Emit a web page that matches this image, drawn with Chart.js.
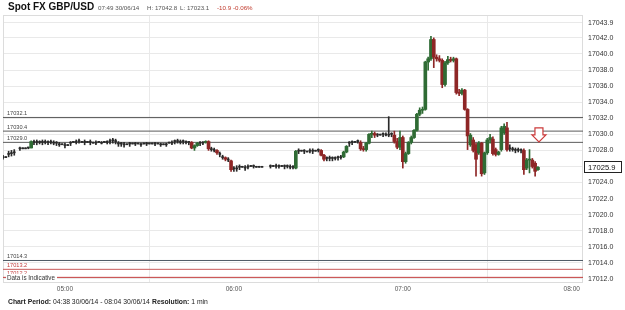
<!DOCTYPE html>
<html lang="en">

<head>
    <meta charset="UTF-8">
    <title>Spot FX GBP/USD</title>
    <script src="https://cdn.jsdelivr.net/npm/chart.js"></script>

    <style>
        body {
            margin: 0;
            background: #fff;
            font-family: "Liberation Sans", Arial, sans-serif;
        }

        .wrap {
            position: relative;
            width: 625px;
            height: 310px;
        }

        .txt {
            position: absolute;
            white-space: nowrap;
            color: #555;
        }

        .big {
            left: 8px;
            top: 1px;
            font-size: 10px;
            line-height: 12px;
            font-weight: bold;
            color: #111;
        }

        .sm {
            top: 4px;
            font-size: 6.2px;
            line-height: 8px;
        }

        .red {
            color: #c0392b;
        }

        .foot {
            top: 298px;
            font-size: 6.8px;
            line-height: 8px;
            color: #222;
        }

        canvas {
            position: absolute;
            left: 0;
            top: 0;
        }
    </style>
</head>

<body>
    <div class="wrap">
        <canvas id="myChart" width="625" height="310"></canvas>
        <div class="txt big">Spot FX GBP/USD</div>
        <div class="txt sm" style="left:98px">07:49 30/06/14</div>
        <div class="txt sm" style="left:147px">H: 17042.8</div>
        <div class="txt sm" style="left:180px">L: 17023.1</div>
        <div class="txt sm red" style="left:217px">-10.9</div>
        <div class="txt sm red" style="left:233px">-0.06%</div>
        <div class="txt foot" style="left:8px"><b>Chart Period:</b> 04:38 30/06/14 - 08:04 30/06/14</div>
        <div class="txt foot" style="left:152px"><b>Resolution:</b> 1 min</div>
    </div>
    <script>
        // 1 min candles, first one at 04:38 (null = no candle that minute)
        const startTime = '04:38';
        const periodEnd = '08:04';

        const opens = [
            17027.1, 17027.1, 17027.5, 17027.6, 17027.7, null, 17028.2, 17028.2, 17028.2, 17028.3,
            17028.3, 17029.0, 17029.0, 17029.0, 17029.0, 17029.0, 17029.0, 17029.0, 17028.9, 17028.9,
            17028.7, 17028.7, 17028.6, 17028.6, 17028.9, 17029.0, 17029.0, 17029.1, 17029.0, 17029.0,
            17029.0, 17029.0, 17028.9, 17028.9, 17029.0, 17028.9, 17029.0, 17029.0, 17029.1, 17029.2,
            17029.1, 17028.8, 17028.8, 17028.7, 17028.7, 17028.8, 17028.8, 17028.8, 17028.8, 17028.7,
            17028.8, 17028.8, 17028.8, 17028.8, 17028.8, 17028.8, 17028.7, 17028.7, 17028.7, 17028.9,
            17028.9, 17029.1, 17029.1, 17029.0, 17029.1, 17029.0, 17029.0, 17029.0, 17028.3, 17028.6,
            17028.9, 17028.9, 17029.0, 17029.1, 17028.1, 17028.0, 17028.0, 17027.5, 17027.1, 17027.1,
            17026.8, 17026.7, 17025.7, 17025.7, 17025.9, 17025.9, 17025.8, 17025.9, 17026.0, 17026.0,
            17025.9, 17025.9, 17025.9, null, null, 17026.0, 17026.0, 17026.0, 17026.0, 17026.0,
            17026.0, 17026.0, 17025.9, 17025.9, 17025.8, 17027.9, 17027.9, 17027.9, 17027.8, 17027.9,
            17027.9, 17027.9, 17028.0, 17028.0, 17027.4, 17027.0, 17027.0, 17027.0, 17027.0, 17027.1,
            17027.1, 17027.2, 17027.8, 17028.9, 17029.0, 17029.0, 17029.1, 17029.0, 17028.2, 17028.1,
            17028.9, 17030.0, 17030.1, 17029.9, 17029.9, 17030.0, 17029.9, 17029.9, 17030.0, 17029.9,
            17029.1, 17028.4, 17029.6, 17026.6, 17027.6, 17029.0, 17029.6, 17030.5, 17032.5, 17033.0,
            17033.1, 17039.0, 17039.4, 17041.8, 17039.6, 17039.4, 17039.2, 17036.2, 17038.9, 17039.3,
            17039.2, 17039.4, 17035.2, 17035.1, 17035.5, 17033.1, 17028.7, 17029.3, 17028.7, 17027.7,
            17028.9, 17025.2, 17027.7, 17029.3, 17029.4, 17028.1, 17027.5, 17028.1, 17030.2, 17030.8,
            17028.2, 17028.1, 17028.0, 17028.0, 17028.0, 17028.0, 17025.8, 17026.8, 17026.8, 17026.4, 17025.6
        ];
        const highs = [
            17027.4, 17027.1, 17027.9, 17028.0, 17028.1, null, 17028.4, 17028.2, 17028.2, 17028.4,
            17029.2, 17029.3, 17029.3, 17029.2, 17029.3, 17029.3, 17029.2, 17029.3, 17029.2, 17029.1,
            17029.0, 17028.7, 17028.9, 17028.6, 17029.1, 17029.0, 17029.3, 17029.4, 17029.0, 17029.3,
            17029.0, 17029.3, 17028.9, 17029.2, 17029.0, 17029.1, 17029.0, 17029.2, 17029.4, 17029.5,
            17029.4, 17029.1, 17029.0, 17029.0, 17028.7, 17029.0, 17028.8, 17029.0, 17028.8, 17028.9,
            17028.8, 17029.0, 17028.8, 17028.8, 17029.0, 17028.8, 17028.9, 17028.7, 17028.9, 17028.9,
            17029.2, 17029.3, 17029.4, 17029.3, 17029.3, 17029.2, 17029.1, 17029.1, 17028.7, 17029.0,
            17029.1, 17029.1, 17029.2, 17029.2, 17028.4, 17028.3, 17028.1, 17027.8, 17027.4, 17027.2,
            17027.1, 17026.8, 17026.0, 17026.1, 17026.2, 17025.9, 17026.1, 17026.2, 17026.0, 17026.2,
            17025.9, 17025.9, 17025.9, null, null, 17026.2, 17026.0, 17026.3, 17026.2, 17026.0,
            17026.2, 17026.2, 17026.2, 17026.1, 17028.0, 17028.2, 17027.9, 17028.1, 17027.8, 17028.2,
            17028.2, 17027.9, 17028.2, 17028.1, 17027.5, 17027.2, 17027.3, 17027.2, 17027.2, 17027.3,
            17027.4, 17027.9, 17028.6, 17029.1, 17029.2, 17029.0, 17029.3, 17029.2, 17028.5, 17029.0,
            17030.1, 17030.4, 17030.3, 17030.1, 17029.9, 17030.2, 17030.2, 17032.2, 17030.2, 17030.4,
            17029.5, 17030.4, 17029.8, 17027.8, 17029.1, 17029.8, 17030.6, 17032.6, 17033.3, 17033.4,
            17039.1, 17039.6, 17042.2, 17042.0, 17039.9, 17039.8, 17039.4, 17039.1, 17039.7, 17039.6,
            17039.6, 17039.5, 17035.6, 17035.7, 17035.6, 17033.2, 17030.1, 17029.6, 17028.9, 17029.1,
            17029.0, 17027.8, 17029.5, 17030.0, 17029.7, 17028.3, 17027.9, 17031.0, 17031.3, 17031.5,
            17028.7, 17028.4, 17028.3, 17028.3, 17028.2, 17028.2, 17027.0, 17028.1, 17027.0, 17026.6, 17026.0
        ];
        const lows = [
            17026.9, 17027.1, 17027.2, 17027.3, 17027.4, null, 17028.0, 17028.2, 17028.2, 17028.2,
            17028.3, 17028.7, 17028.7, 17028.8, 17028.7, 17028.8, 17028.7, 17028.8, 17028.7, 17028.6,
            17028.5, 17028.7, 17028.3, 17028.6, 17028.6, 17029.0, 17028.8, 17028.9, 17029.0, 17028.7,
            17029.0, 17028.7, 17028.9, 17028.7, 17029.0, 17028.8, 17029.0, 17028.8, 17028.8, 17028.9,
            17028.8, 17028.5, 17028.5, 17028.4, 17028.7, 17028.5, 17028.8, 17028.6, 17028.8, 17028.5,
            17028.8, 17028.6, 17028.8, 17028.8, 17028.6, 17028.8, 17028.5, 17028.7, 17028.5, 17028.9,
            17028.7, 17028.8, 17028.9, 17028.8, 17028.8, 17028.8, 17028.7, 17028.2, 17028.0, 17028.5,
            17028.6, 17028.7, 17028.9, 17028.0, 17027.9, 17027.8, 17027.5, 17027.2, 17026.9, 17026.7,
            17026.6, 17025.4, 17025.4, 17025.4, 17025.6, 17025.9, 17025.5, 17025.7, 17026.0, 17025.8,
            17025.9, 17025.9, 17025.9, null, null, 17025.8, 17026.0, 17025.8, 17025.8, 17026.0,
            17025.7, 17025.8, 17025.7, 17025.7, 17025.7, 17027.6, 17027.9, 17027.6, 17027.8, 17027.7,
            17027.6, 17027.9, 17027.8, 17027.3, 17026.7, 17026.7, 17026.7, 17026.7, 17026.8, 17026.8,
            17026.9, 17027.1, 17027.7, 17028.5, 17028.7, 17029.0, 17028.9, 17028.0, 17027.9, 17027.9,
            17028.8, 17029.6, 17029.6, 17029.7, 17029.9, 17029.7, 17029.8, 17029.7, 17029.7, 17028.9,
            17028.2, 17028.1, 17025.8, 17026.4, 17027.5, 17028.8, 17029.5, 17030.4, 17032.3, 17032.6,
            17033.0, 17038.0, 17039.2, 17038.3, 17039.1, 17039.0, 17035.8, 17036.0, 17038.7, 17039.0,
            17039.0, 17035.0, 17034.8, 17034.9, 17033.0, 17028.1, 17028.5, 17027.8, 17024.8, 17027.5,
            17024.8, 17025.0, 17027.5, 17028.9, 17027.4, 17027.3, 17027.4, 17027.9, 17030.0, 17027.9,
            17027.9, 17027.9, 17027.7, 17027.8, 17027.7, 17025.0, 17025.6, 17025.2, 17025.8, 17024.8, 17025.5
        ];
        const closes = [
            17027.1, 17027.1, 17027.5, 17027.6, 17027.7, null, 17028.2, 17028.2, 17028.2, 17028.3,
            17029.1, 17029.0, 17029.0, 17029.0, 17029.0, 17029.0, 17029.0, 17029.0, 17028.9, 17028.9,
            17028.7, 17028.7, 17028.6, 17028.6, 17028.9, 17029.0, 17029.0, 17029.1, 17029.0, 17029.0,
            17029.0, 17029.0, 17028.9, 17028.9, 17029.0, 17028.9, 17029.0, 17029.0, 17029.1, 17029.2,
            17029.1, 17028.8, 17028.8, 17028.7, 17028.7, 17028.8, 17028.8, 17028.8, 17028.8, 17028.7,
            17028.8, 17028.8, 17028.8, 17028.8, 17028.8, 17028.8, 17028.7, 17028.7, 17028.7, 17028.9,
            17028.9, 17029.1, 17029.1, 17029.0, 17029.1, 17029.0, 17029.0, 17028.3, 17028.6, 17028.9,
            17028.9, 17028.9, 17029.1, 17028.2, 17028.1, 17028.0, 17027.7, 17027.5, 17027.1, 17026.9,
            17026.8, 17025.6, 17025.7, 17025.7, 17025.9, 17025.9, 17025.8, 17025.9, 17026.0, 17026.0,
            17025.9, 17025.9, 17025.9, null, null, 17026.0, 17026.0, 17026.0, 17026.0, 17026.0,
            17026.0, 17026.0, 17025.9, 17025.9, 17027.9, 17027.9, 17027.9, 17027.9, 17027.8, 17027.9,
            17027.9, 17027.9, 17028.0, 17027.4, 17026.9, 17027.0, 17027.0, 17027.0, 17027.0, 17027.1,
            17027.1, 17027.8, 17028.5, 17028.9, 17029.0, 17029.0, 17029.1, 17028.2, 17028.1, 17028.9,
            17030.0, 17030.1, 17029.9, 17029.9, 17029.9, 17030.0, 17029.9, 17029.9, 17030.0, 17029.1,
            17028.4, 17029.6, 17026.6, 17027.6, 17029.0, 17029.6, 17030.5, 17032.5, 17033.0, 17033.1,
            17039.0, 17039.4, 17041.8, 17039.6, 17039.4, 17039.2, 17036.2, 17038.9, 17039.3, 17039.2,
            17039.4, 17035.2, 17035.1, 17035.5, 17033.1, 17029.8, 17029.9, 17028.0, 17026.9, 17028.9,
            17025.1, 17027.7, 17029.3, 17029.6, 17027.6, 17027.5, 17027.8, 17030.8, 17031.0, 17028.1,
            17028.2, 17028.1, 17028.0, 17028.0, 17028.0, 17025.6, 17026.8, 17026.9, 17026.0, 17025.4, 17025.9
        ];

        // horizontal levels drawn across the chart
        const levelValues = [17032.1, 17030.4, 17029.0, 17014.3, 17013.2, 17012.2];
        const levelColors = ['#5b5b5b', '#5b5b5b', '#5b5b5b', '#4f5b66', '#c85a5a', '#c23c3c'];

        const yTickValues = [17012, 17014, 17016, 17018, 17020, 17022, 17024, 17026, 17028,
            17030, 17032, 17034, 17036, 17038, 17040, 17042, 17043.9];
        const hourTicks = ['05:00', '06:00', '07:00', '08:00'];

        const toMin = s => +s.slice(0, 2) * 60 + +s.slice(3, 5);
        const fmtMin = m => String(Math.floor(m / 60)).padStart(2, '0') + ':' + String(Math.round(m % 60)).padStart(2, '0');

        const upColor = '#2f6b34';
        const downColor = '#8e2626';
        const flatColor = '#2a2a2a';

        const t0 = toMin(startTime);
        const xMin = t0;
        const xMax = toMin(periodEnd);
        const times = opens.map((e, i) => t0 + i);
        const lastPrice = closes[closes.length - 1];
        const isDoji = i => opens[i] !== null && opens[i] === closes[i];
        const wickData = times.map((t, i) => ({ x: t, y: opens[i] === null ? null : [lows[i], highs[i]] }));
        // coloured bodies and flat (doji) ticks go in two sets so the ticks can be thinner
        const bodyData = times.map((t, i) => ({ x: t, y: opens[i] === null || isDoji(i) ? null : [opens[i], closes[i]] }));
        const dojiData = times.map((t, i) => ({ x: t, y: isDoji(i) ? [opens[i], closes[i]] : null }));
        const colors = times.map((t, i) => closes[i] > opens[i] ? upColor : (closes[i] < opens[i] ? downColor : flatColor));

        const levelSets = levelValues.map((v, i) => ({
            type: 'line',
            data: [{ x: xMin, y: v }, { x: xMax, y: v }],
            borderColor: levelColors[i],
            borderWidth: 1,
            pointRadius: 0,
            order: 4
        }));

        const overlay = {
            id: 'overlay',
            beforeDatasetsDraw(chart) {
                const { ctx, chartArea: a } = chart;
                ctx.save();
                ctx.strokeStyle = '#dcdcdc';
                ctx.lineWidth = 1;
                ctx.strokeRect(a.left + 0.5, a.top + 0.5, a.width - 1, a.height - 1);
                ctx.restore();
            },
            afterDatasetsDraw(chart) {
                const { ctx, chartArea: a, scales: { x, y } } = chart;
                ctx.save();

                // level labels
                ctx.font = '5.6px "Liberation Sans", Arial, sans-serif';
                ctx.textBaseline = 'alphabetic';
                levelValues.forEach((v, i) => {
                    ctx.fillStyle = i >= 4 ? '#c23c3c' : '#444';
                    ctx.fillText(v.toFixed(1), a.left + 4, y.getPixelForValue(v) - 2);
                });

                // Data is Indicative
                const dy = y.getPixelForValue(levelValues[5]);
                ctx.font = '6.3px "Liberation Sans", Arial, sans-serif';
                ctx.fillStyle = '#fff';
                ctx.fillRect(a.left + 3, dy - 3.5, 51, 7);
                ctx.fillStyle = '#333';
                ctx.textBaseline = 'middle';
                ctx.fillText('Data is Indicative', a.left + 4, dy + 0.5);

                // last price box
                const py = Math.round(y.getPixelForValue(lastPrice));
                ctx.fillStyle = '#fff';
                ctx.fillRect(a.right + 1.5, py - 5.5, 37, 11);
                ctx.strokeStyle = '#222';
                ctx.strokeRect(a.right + 1.5, py - 5.5, 37, 11);
                ctx.fillStyle = '#111';
                ctx.font = '7.6px "Liberation Sans", Arial, sans-serif';
                ctx.fillText(lastPrice.toFixed(1), a.right + 5, py + 0.5);

                // red arrow marker over last candle
                const cx = x.getPixelForValue(times[times.length - 1]) + 1;
                const top = y.getPixelForValue(17030.8);
                ctx.beginPath();
                ctx.moveTo(cx - 4, top);
                ctx.lineTo(cx + 4, top);
                ctx.lineTo(cx + 4, top + 7);
                ctx.lineTo(cx + 7, top + 7);
                ctx.lineTo(cx, top + 14);
                ctx.lineTo(cx - 7, top + 7);
                ctx.lineTo(cx - 4, top + 7);
                ctx.closePath();
                ctx.fillStyle = '#fff';
                ctx.fill();
                ctx.strokeStyle = '#cc3a3a';
                ctx.lineWidth = 1.2;
                ctx.stroke();

                ctx.restore();
            }
        };

        Chart.defaults.font.family = '"Liberation Sans", Arial, sans-serif';

        const ctx = document.getElementById('myChart').getContext('2d');
        const myChart = new Chart(ctx, {
            type: 'bar',
            data: {
                datasets: [{
                    label: 'wick',
                    data: wickData,
                    backgroundColor: colors,
                    barThickness: 1,
                    minBarLength: 1,
                    grouped: false,
                    order: 3
                }, {
                    label: 'doji',
                    data: dojiData,
                    backgroundColor: flatColor,
                    barThickness: 2,
                    minBarLength: 1,
                    grouped: false,
                    order: 2
                }, {
                    label: 'body',
                    data: bodyData,
                    backgroundColor: colors,
                    barThickness: 3,
                    minBarLength: 1,
                    grouped: false,
                    order: 1
                }, ...levelSets]
            },
            options: {
                responsive: false,
                devicePixelRatio: 1,
                animation: false,
                layout: {
                    padding: { left: 3, top: 15, right: 0, bottom: 15 }
                },
                plugins: {
                    legend: { display: false },
                    tooltip: { enabled: false }
                },
                scales: {
                    x: {
                        type: 'linear',
                        min: xMin,
                        max: xMax,
                        offset: false,
                        afterBuildTicks: s => { s.ticks = hourTicks.map(h => ({ value: toMin(h) })); },
                        afterFit: s => { s.height = 12; },
                        grid: { color: '#e9e9e9', drawTicks: false },
                        border: { display: false },
                        ticks: {
                            autoSkip: false,
                            maxRotation: 0,
                            padding: 2,
                            color: '#555',
                            font: { size: 6.5 },
                            callback: v => fmtMin(v)
                        }
                    },
                    y: {
                        position: 'right',
                        min: 17011.5,
                        max: 17044.85,
                        beginAtZero: false,
                        afterBuildTicks: s => { s.ticks = yTickValues.map(v => ({ value: v })); },
                        afterFit: s => { s.width = 42; },
                        grid: { color: '#e9e9e9', drawTicks: false },
                        border: { display: false },
                        ticks: {
                            padding: 5,
                            color: '#333',
                            font: { size: 7 },
                            callback: v => v.toFixed(1)
                        }
                    }
                }
            },
            plugins: [overlay]
        });
    </script>
</body>

</html>
